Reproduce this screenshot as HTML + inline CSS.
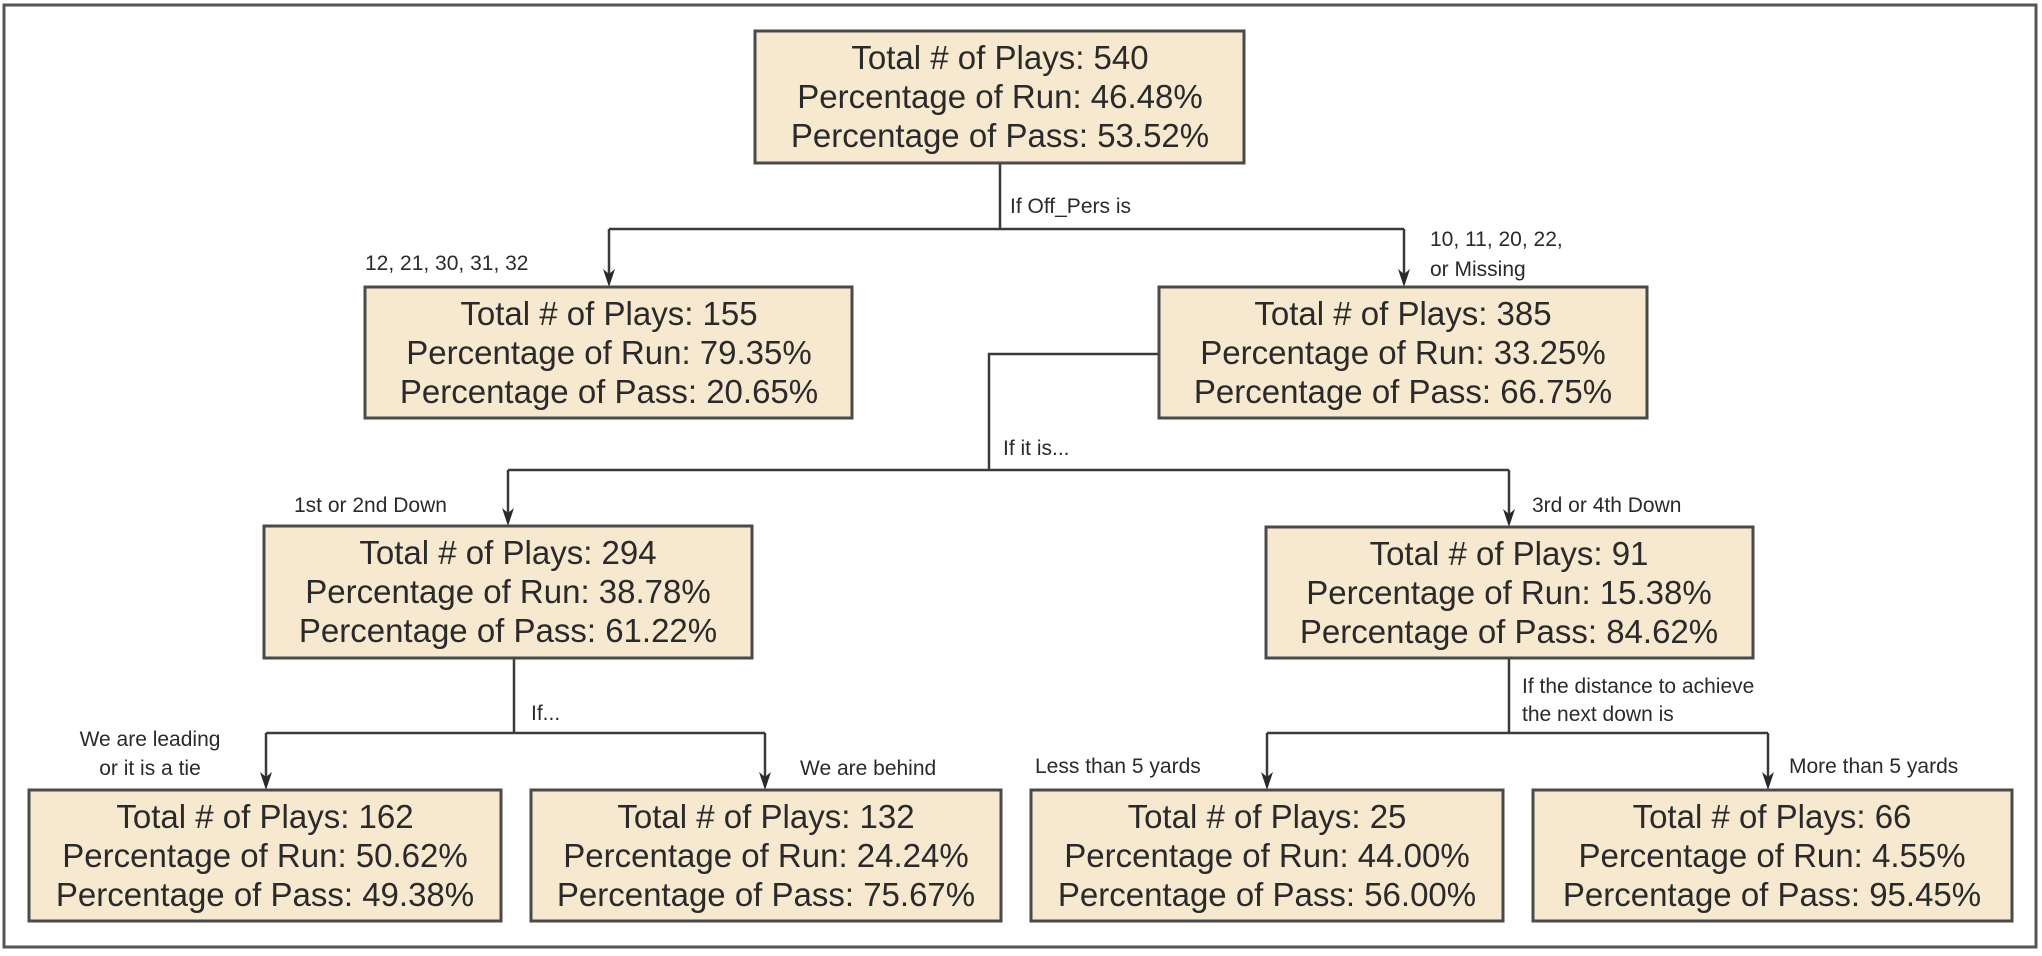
<!DOCTYPE html>
<html><head><meta charset="utf-8"><style>
html,body{margin:0;padding:0;background:#fff;}
svg{display:block;}
.b{fill:#f7e8d0;stroke:#4a4a4a;stroke-width:3;}
.l{stroke:#3a3a3a;stroke-width:2.5;fill:none;}
.t{font-family:"Liberation Sans",sans-serif;font-size:33px;fill:#2a2a2a;text-anchor:middle;}
.s{font-family:"Liberation Sans",sans-serif;font-size:21px;fill:#2a2a2a;}
.ah{fill:#2a2a2a;}
</style></head><body>
<svg width="2042" height="956" viewBox="0 0 2042 956" xmlns="http://www.w3.org/2000/svg">
<rect x="4" y="5" width="2032" height="942" fill="none" stroke="#555" stroke-width="3"/>

<!-- connectors -->
<path class="l" d="M1000,163 V229 M609,229 H1404 M609,229 V280 M1404,229 V280"/>
<path class="l" d="M1159,354 H989 V470 M508,470 H1509 M508,470 V519 M1509,470 V520"/>
<path class="l" d="M514,658 V733 M266,733 H765 M266,733 V783 M765,733 V783"/>
<path class="l" d="M1509,658 V733 M1267,733 H1768 M1267,733 V783 M1768,733 V783"/>

<!-- arrowheads -->
<polygon class="ah" points="603,269 609,287 615,269 609,274"/>
<polygon class="ah" points="1398,269 1404,287 1410,269 1404,274"/>
<polygon class="ah" points="502,508 508,526 514,508 508,513"/>
<polygon class="ah" points="1503,509 1509,527 1515,509 1509,514"/>
<polygon class="ah" points="260,772 266,790 272,772 266,777"/>
<polygon class="ah" points="759,772 765,790 771,772 765,777"/>
<polygon class="ah" points="1261,772 1267,790 1273,772 1267,777"/>
<polygon class="ah" points="1762,772 1768,790 1774,772 1768,777"/>

<!-- labels -->
<text class="s" x="1010" y="213">If Off_Pers is</text>
<text class="s" x="365" y="270">12, 21, 30, 31, 32</text>
<text class="s" x="1430" y="246">10, 11, 20, 22,</text>
<text class="s" x="1430" y="276">or Missing</text>
<text class="s" x="1003" y="455">If it is...</text>
<text class="s" x="294" y="512">1st or 2nd Down</text>
<text class="s" x="1532" y="512">3rd or 4th Down</text>
<text class="s" x="531" y="720">If...</text>
<text class="s" x="150" y="746" text-anchor="middle">We are leading</text>
<text class="s" x="150" y="775" text-anchor="middle">or it is a tie</text>
<text class="s" x="800" y="775">We are behind</text>
<text class="s" x="1522" y="693">If the distance to achieve</text>
<text class="s" x="1522" y="721">the next down is</text>
<text class="s" x="1035" y="773">Less than 5 yards</text>
<text class="s" x="1789" y="773">More than 5 yards</text>

<!-- boxes -->
<g>
<rect class="b" x="755" y="31" width="489" height="132"/>
<text class="t" x="1000" y="69">Total # of Plays: 540</text>
<text class="t" x="1000" y="108">Percentage of Run: 46.48%</text>
<text class="t" x="1000" y="147">Percentage of Pass: 53.52%</text>

<rect class="b" x="365" y="287" width="487" height="131"/>
<text class="t" x="609" y="325">Total # of Plays: 155</text>
<text class="t" x="609" y="364">Percentage of Run: 79.35%</text>
<text class="t" x="609" y="403">Percentage of Pass: 20.65%</text>

<rect class="b" x="1159" y="287" width="488" height="131"/>
<text class="t" x="1403" y="325">Total # of Plays: 385</text>
<text class="t" x="1403" y="364">Percentage of Run: 33.25%</text>
<text class="t" x="1403" y="403">Percentage of Pass: 66.75%</text>

<rect class="b" x="264" y="526" width="488" height="132"/>
<text class="t" x="508" y="564">Total # of Plays: 294</text>
<text class="t" x="508" y="603">Percentage of Run: 38.78%</text>
<text class="t" x="508" y="642">Percentage of Pass: 61.22%</text>

<rect class="b" x="1266" y="527" width="487" height="131"/>
<text class="t" x="1509" y="565">Total # of Plays: 91</text>
<text class="t" x="1509" y="604">Percentage of Run: 15.38%</text>
<text class="t" x="1509" y="643">Percentage of Pass: 84.62%</text>

<rect class="b" x="29" y="790" width="472" height="131"/>
<text class="t" x="265" y="828">Total # of Plays: 162</text>
<text class="t" x="265" y="867">Percentage of Run: 50.62%</text>
<text class="t" x="265" y="906">Percentage of Pass: 49.38%</text>

<rect class="b" x="531" y="790" width="470" height="131"/>
<text class="t" x="766" y="828">Total # of Plays: 132</text>
<text class="t" x="766" y="867">Percentage of Run: 24.24%</text>
<text class="t" x="766" y="906">Percentage of Pass: 75.67%</text>

<rect class="b" x="1031" y="790" width="472" height="131"/>
<text class="t" x="1267" y="828">Total # of Plays: 25</text>
<text class="t" x="1267" y="867">Percentage of Run: 44.00%</text>
<text class="t" x="1267" y="906">Percentage of Pass: 56.00%</text>

<rect class="b" x="1533" y="790" width="479" height="131"/>
<text class="t" x="1772" y="828">Total # of Plays: 66</text>
<text class="t" x="1772" y="867">Percentage of Run: 4.55%</text>
<text class="t" x="1772" y="906">Percentage of Pass: 95.45%</text>
</g>
</svg>
</body></html>
